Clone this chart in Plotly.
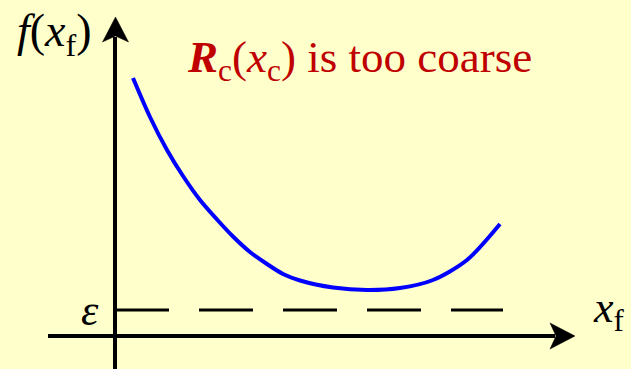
import plotly.graph_objects as go

# Conceptual curve f(x_f) (origin at axis intersection)
x_f = [18, 35, 52, 68, 85, 102, 118, 135, 152, 168, 185, 218, 252, 285, 318, 352, 385]
f_vals = [258, 219, 186, 160, 136, 116.5, 99.5, 84, 72, 62, 55.5, 48.5, 46, 48, 56, 76, 112]

# Tolerance level epsilon
eps = 26
eps_x = [0, 388]
eps_y = [eps, eps]

# Axis extents
X_MIN, X_END = -67, 460
Y_MIN, Y_END = -40, 319
HEAD_LEN, HEAD_HALF = 25, 13

BG = "#FFFFCC"
FONT = "Liberation Serif, Times New Roman, serif"

fig = go.Figure()
# x axis line + arrowhead
fig.add_trace(go.Scatter(x=[X_MIN, X_END - HEAD_LEN + 5], y=[0, 0], mode="lines",
                         line=dict(color="black", width=4)))
fig.add_trace(go.Scatter(x=[X_END, X_END - HEAD_LEN, X_END - HEAD_LEN + 6, X_END - HEAD_LEN, X_END],
                         y=[0, HEAD_HALF, 0, -HEAD_HALF, 0], mode="lines", fill="toself",
                         fillcolor="black", line=dict(color="black", width=0.5)))
# y axis line + arrowhead
fig.add_trace(go.Scatter(x=[0, 0], y=[Y_MIN, Y_END - HEAD_LEN + 5], mode="lines",
                         line=dict(color="black", width=4)))
fig.add_trace(go.Scatter(x=[0.5, -HEAD_HALF + 0.5, 0.5, HEAD_HALF + 0.5, 0.5],
                         y=[Y_END, Y_END - HEAD_LEN, Y_END - HEAD_LEN + 6, Y_END - HEAD_LEN, Y_END],
                         mode="lines", fill="toself",
                         fillcolor="black", line=dict(color="black", width=0.5)))
# epsilon level
fig.add_trace(go.Scatter(x=eps_x, y=eps_y, mode="lines",
                         line=dict(color="black", width=3.2, dash="54px,30px")))
# f(x_f) curve
fig.add_trace(go.Scatter(x=x_f, y=f_vals, mode="lines",
                         line=dict(color="#0000FF", width=4, shape="spline", smoothing=0.8)))

annotations = [
    dict(x=0.2932, y=0.837, xref="paper", yref="paper", xanchor="left", yanchor="middle",
         text="<b><i>R</i></b><sub>c</sub>(<i>x</i><sub>c</sub>) is too coarse", showarrow=False,
         font=dict(family=FONT, size=45, color="#C00000")),
    dict(x=0.0238, y=0.908, xref="paper", yref="paper", xanchor="left", yanchor="middle",
         text="<i>f</i>(<i>x</i><sub>f</sub>)", showarrow=False,
         font=dict(family=FONT, size=46, color="black")),
    dict(x=0.9366, y=0.1572, xref="paper", yref="paper", xanchor="left", yanchor="middle",
         text="<i>x</i><sub>f</sub>", showarrow=False,
         font=dict(family=FONT, size=44, color="black")),
    dict(x=0.1426, y=0.1572, xref="paper", yref="paper", xanchor="center", yanchor="middle",
         text="<i>ε</i>", showarrow=False,
         font=dict(family=FONT, size=44, color="black")),
]

fig.update_layout(
    width=631, height=369,
    margin=dict(l=0, r=0, t=0, b=0),
    paper_bgcolor=BG, plot_bgcolor=BG,
    showlegend=False,
    font=dict(family=FONT),
    xaxis=dict(range=[-115, 516], visible=False),
    yaxis=dict(range=[-33, 336], visible=False),
    annotations=annotations,
)

fig.write_html("out.html", config={"displayModeBar": False},
               post_script="document.body.style.margin='0';document.body.style.background='" + BG + "';")
